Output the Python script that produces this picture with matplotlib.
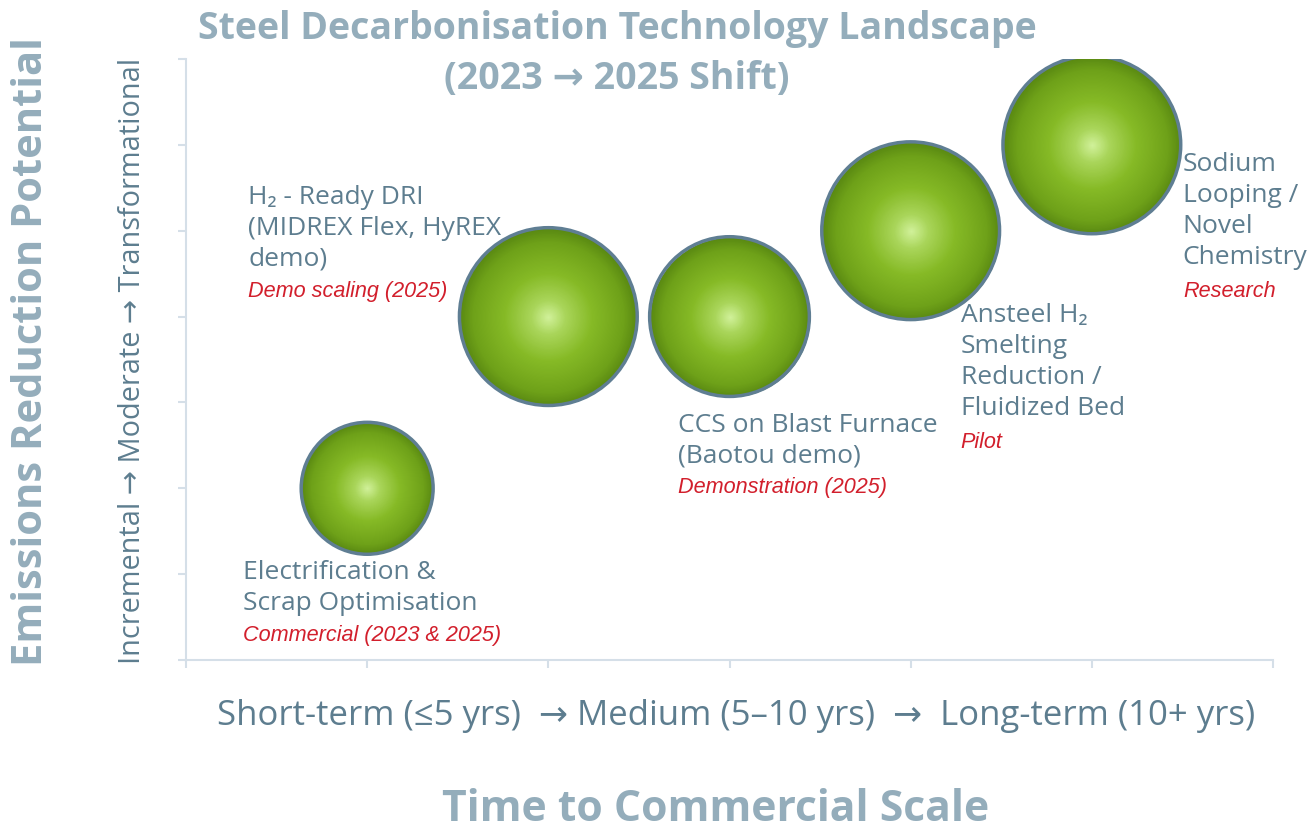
import numpy as np
import matplotlib
matplotlib.use("Agg")
import matplotlib.pyplot as plt
from matplotlib.colors import LinearSegmentedColormap

# technologies: position on the time axis, reduction potential, bubble size
names = ["Electrification &\nScrap Optimisation",
         "H\u2082 - Ready DRI\n(MIDREX Flex, HyREX\ndemo)",
         "CCS on Blast Furnace\n(Baotou demo)",
         "Ansteel H\u2082\nSmelting\nReduction /\nFluidized Bed",
         "Sodium\nLooping /\nNovel\nChemistry"]
stages = ["Commercial (2023 & 2025)", "Demo scaling (2025)",
          "Demonstration (2025)", "Pilot", "Research"]
time_pos = [1, 2, 3, 4, 5]
potential = [2, 4, 4, 5, 6]
bubble_d = [95, 128, 115, 128, 128]   # bubble diameter in points

# label placement (offset of the label's top-left from bubble centre, px)
label_off = [(-124, -71), (-300, 133), (-52, -95), (50, -71), (91, -6)]

DPI = 100
fig = plt.figure(figsize=(13.09, 8.29), dpi=DPI)
ax = fig.add_axes([186/1309, 1-661/829, (1273-186)/1309, (661-60)/829])

GRID = "#d5dfe8"
TXT = "#5d7d8f"
RED = "#d21f2c"
PALE = "#94adbb"
FAM = ["Open Sans", "DejaVu Sans"]

green = LinearSegmentedColormap.from_list("g", [
    (0.0, "#d2f29c"), (0.2, "#a9d55a"), (0.5, "#86ba26"),
    (0.85, "#6fa219"), (1.0, "#5a8a12")])

n = 70
for x, y, d in zip(time_pos, potential, bubble_d):
    for i in range(n):
        f = 1 - i / n
        ax.scatter([x], [y], s=(d * f) ** 2, color=green(f), lw=0, zorder=3)
    ax.scatter([x], [y], s=d ** 2, facecolor="none", edgecolor="#5f7e93",
               lw=2.5, zorder=4)

px = 72 / DPI
for x, y, nm, st, (dx, dy) in zip(time_pos, potential, names, stages, label_off):
    ax.annotate(nm, (x, y), xytext=(dx * px, dy * px), textcoords="offset points",
                ha="left", va="top", fontsize=19, color=TXT, family=FAM,
                linespacing=1.32, annotation_clip=False, zorder=5)
    nl = nm.count("\n") + 1
    ax.annotate(st, (x, y), xytext=(dx * px, (dy - nl * 32.2) * px),
                textcoords="offset points", ha="left", va="top", fontsize=15.6,
                color=RED, style="italic", family="Liberation Sans",
                annotation_clip=False, zorder=5)

ax.set_xlim(0, 6)
ax.set_ylim(0, 7)
ax.set_xticks(range(0, 7))
ax.set_yticks(range(0, 8))
ax.set_xticklabels([])
ax.set_yticklabels([])
for s in ["top", "right"]:
    ax.spines[s].set_visible(False)
for s in ["left", "bottom"]:
    ax.spines[s].set_color(GRID)
    ax.spines[s].set_linewidth(1.5)
ax.tick_params(length=6, width=1.5, color=GRID)

fig.text(736/1309, 1-716/829,
         "Short-term (\u22645 yrs)  \u2192 Medium (5\u201310 yrs)  \u2192  Long-term (10+ yrs)",
         ha="center", va="center", fontsize=25, color=TXT, family=FAM)
fig.text(133/1309, 1-361/829, "Incremental \u2192 Moderate \u2192 Transformational",
         ha="center", va="center", rotation=90, fontsize=20.8, color=TXT, family=FAM)
fig.text(32/1309, 1-352/829, "Emissions Reduction Potential", ha="center",
         va="center", rotation=90, fontsize=30, color=PALE, weight="bold", family=FAM)
fig.text(716/1309, 1-810/829, "Time to Commercial Scale", ha="center",
         va="center", fontsize=30.7, color=PALE, weight="bold", family=FAM)
fig.text(617/1309, 1-54/829, "Steel Decarbonisation Technology Landscape\n(2023 \u2192 2025 Shift)",
         ha="center", va="center", fontsize=27, color=PALE, weight="bold",
         family=FAM, linespacing=1.38)

fig.savefig("out.png", dpi=DPI)
